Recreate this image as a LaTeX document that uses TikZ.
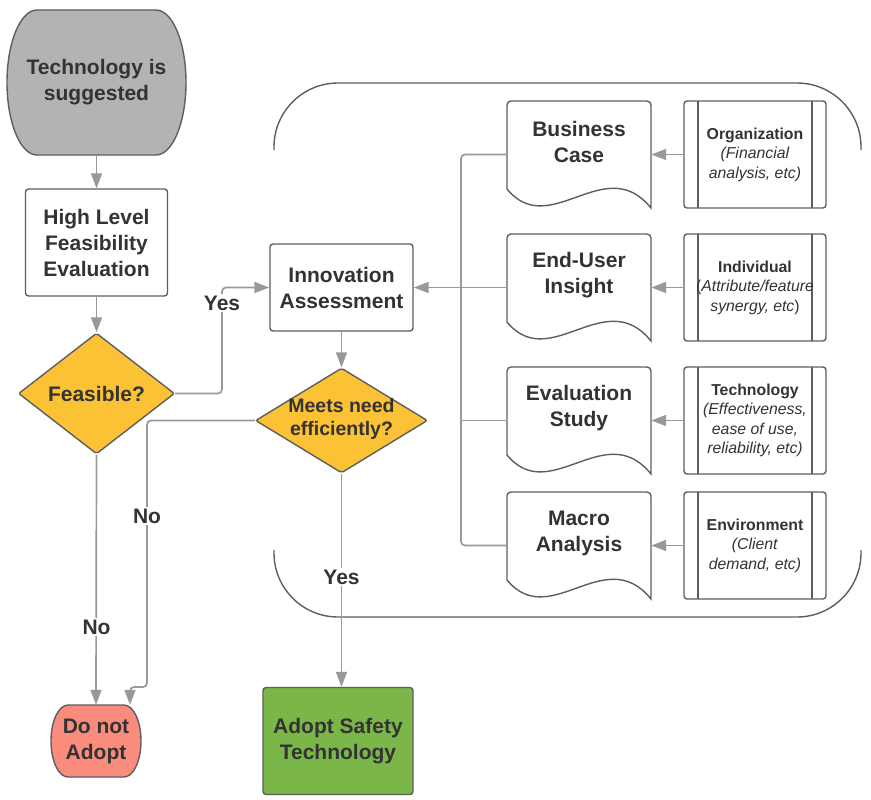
\documentclass[tikz,border=0pt]{standalone}
\usepackage{fontspec}
\setmainfont{Liberation Sans}
\usetikzlibrary{arrows.meta,shapes.geometric}
\definecolor{cline}{HTML}{999999}
\definecolor{cedge}{HTML}{5E5E5E}
\definecolor{ctext}{HTML}{333333}
\definecolor{cgray}{HTML}{B3B3B3}
\definecolor{cyel}{HTML}{FBC236}
\definecolor{cpink}{HTML}{FA8C7E}
\definecolor{cgreen}{HTML}{7AB648}
\newcommand\mydoc[3]{%
  \draw[shapeline, fill=white] (507,{#1+88}) -- (507,{#1+4}) .. controls (507,{#1+1.8}) and (508.8,#1) .. (511,#1) -- (647,#1) .. controls (649.2,#1) and (651,{#1+1.8}) .. (651,{#1+4}) -- (651,{#1+107}) .. controls (605,{#1+50}) and (550,{#1+140}) .. (507,{#1+88}) -- cycle;
  \node[minimum width=144pt, minimum height=107pt, inner sep=0] (#2) at (579,{#1+53.5}) {};
  \node[big] at (579,{#1+41}) {#3};
}
\newcommand\mysub[3]{%
  \draw[shapeline, fill=white, rounded corners=3pt] (684,#1) rectangle (826,{#1+107});
  \draw[shapeline] (698,#1) -- (698,{#1+107});
  \draw[shapeline] (812,#1) -- (812,{#1+107});
  \node[small, minimum width=142pt, minimum height=107pt, inner sep=0] (#2) at (755,{#1+53.5}) {#3};
}
\begin{document}
\begin{tikzpicture}[x=1pt,y=-1pt,
  shapeline/.style={draw=cedge,line width=1.4pt},
  conn/.style={draw=cline,line width=1.7pt,rounded corners=4pt},
  arr/.style={conn,-{Triangle[length=15pt,width=11pt]}},
  big/.style={font=\fontsize{21}{26}\selectfont\bfseries, text=ctext, align=center},
  lab/.style={big, fill=white, inner sep=2pt},
  small/.style={font=\fontsize{15.8}{19.5}\selectfont, text=ctext, align=center},
  cont/.style={draw=cedge,line width=1.4pt,rounded corners=64pt}]
\useasboundingbox (0,0) rectangle (871,800);
\fill[white] (0,0) rectangle (871,800);

% container
\draw[cont] (274,150) -- (274,83) -- (861,83) -- (861,150);
\draw[cont] (274,550) -- (274,617) -- (861,617) -- (861,550);

% start terminator
\draw[shapeline, fill=cgray] (37,10) -- (156,10) .. controls (172.6,10) and (186,42.5) .. (186,82.5) .. controls (186,122.5) and (172.6,155) .. (156,155) -- (37,155) .. controls (20.4,155) and (7,122.5) .. (7,82.5) .. controls (7,42.5) and (20.4,10) .. (37,10) -- cycle;
\node[big, minimum width=179pt, minimum height=145pt, inner sep=0] (tech) at (96.5,82.5) {Technology is\\suggested};

\node[big, shapeline, fill=white, rounded corners=3pt, minimum width=142pt, minimum height=107pt, inner sep=0] (high) at (96.5,242.5) {High Level\\Feasibility\\Evaluation};

\node[diamond, shapeline, fill=cyel, minimum width=156pt, minimum height=121pt, inner sep=0, rounded corners=2pt] (feas) at (96.5,393.5) {};
\node[big] at (feas) {Feasible?};

\node[big, shapeline, fill=white, rounded corners=3pt, minimum width=143pt, minimum height=87pt, inner sep=0] (innov) at (341.5,287.5) {Innovation\\Assessment};

\node[diamond, shapeline, fill=cyel, minimum width=172pt, minimum height=105pt, inner sep=0, rounded corners=2pt] (meets) at (341.5,420.5) {};
\node[font=\fontsize{19.5}{23}\selectfont\bfseries, text=ctext, align=center] at (341.5,418.5) {Meets need\\efficiently?};

% do not adopt
\draw[shapeline, fill=cpink] (124,705) .. controls (133.4,705) and (141,721.1) .. (141,741) .. controls (141,760.9) and (133.4,777) .. (124,777) -- (68,777) .. controls (58.6,777) and (51,760.9) .. (51,741) .. controls (51,721.1) and (58.6,705) .. (68,705) -- cycle;
\node[big, minimum width=90pt, minimum height=72pt, inner sep=0] (dna) at (96,741) {Do not\\Adopt};

\node[big, shapeline, fill=cgreen, rounded corners=3pt, minimum width=150pt, minimum height=107pt, inner sep=0] (adopt) at (338,741) {Adopt Safety\\Technology};

% documents and sub-processes
\mydoc{101}{doc1}{Business\\Case}
\mydoc{234}{doc2}{End-User\\Insight}
\mydoc{367}{doc3}{Evaluation\\Study}
\mydoc{492}{doc4}{Macro\\Analysis}
\mysub{101}{sub1}{\textbf{Organization}\\\textit{(Financial}\\\textit{analysis, etc)}}
\mysub{234}{sub2}{\textbf{Individual}\\(\textit{Attribute/feature}\\\textit{synergy, etc})}
\mysub{367}{sub3}{\textbf{Technology}\\\textit{(Effectiveness,}\\\textit{ease of use,}\\\textit{reliability, etc)}}
\mysub{492}{sub4}{\textbf{Environment}\\\textit{(Client}\\\textit{demand, etc)}}

% connectors
\draw[arr] (tech.south) -- (high.north);
\draw[arr] (high.south) -- (feas.north);
\coordinate (yc) at (222,287.5);
\draw[arr] (feas.east) -| (yc) -- (yc -| innov.west);
\node[lab] at (222,303) {Yes};
\draw[arr] (innov.south) -- (meets.north);
\draw[arr] (feas.south) -- (dna.north);
\node[lab] at (96.5,627) {No};
\draw[arr] (meets.west) -- (147,420.5) -- (147,687) -- (130,687) -- ([xshift=34pt]dna.north);
\node[lab] at (147,516) {No};
\draw[arr] (meets.south) -- (meets.south |- adopt.north);
\node[lab] at (341.5,577) {Yes};

\draw[arr] (sub1.west) -- (doc1.east);
\draw[arr] (sub2.west) -- (doc2.east);
\draw[arr] (sub3.west) -- (doc3.east);
\draw[arr] (sub4.west) -- (doc4.east);
\coordinate (br) at (461,287.5);
\draw[conn] (doc1.west) -- (doc1.west -| br) -- (doc4.west -| br) -- (doc4.west);
\draw[conn] (doc2.west) -- (br);
\draw[conn] (doc3.west) -- (doc3.west -| br);
\draw[arr] (br) -- (innov.east);
\end{tikzpicture}
\end{document}
